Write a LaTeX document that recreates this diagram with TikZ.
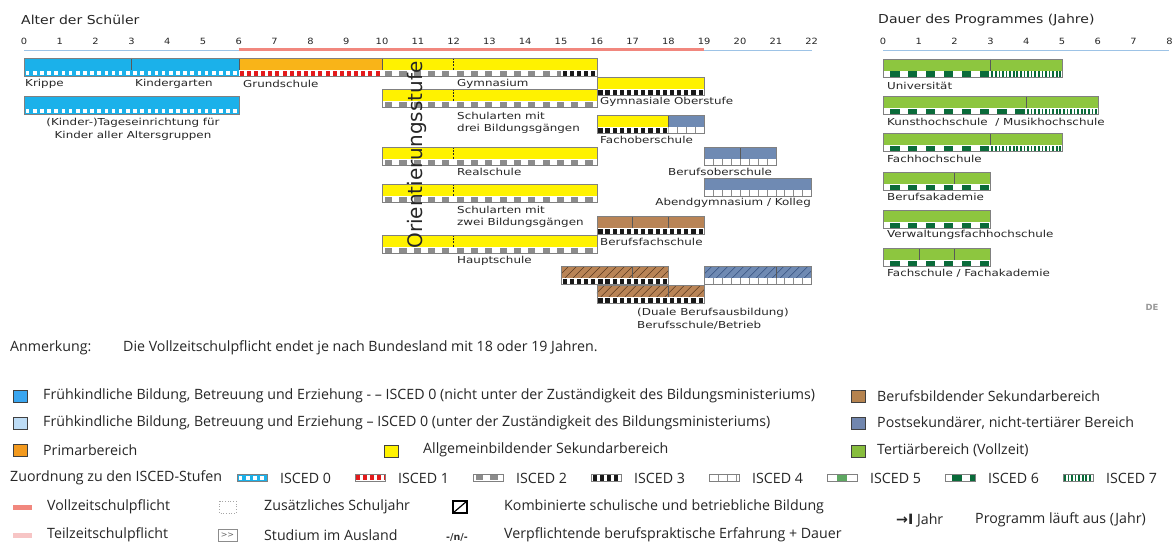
\documentclass[tikz,border=0pt]{standalone}
\usepackage{graphicx}
\usepackage{fontspec}
\setmainfont{DejaVu Sans}
\newfontfamily\legfont{Open Sans}
\newfontfamily\symfont{DejaVu Sans}
\usetikzlibrary{arrows.meta}

\definecolor{cyanb}{HTML}{1BB1EA}
\definecolor{orng}{HTML}{F9B418}
\definecolor{yel}{HTML}{FFF200}
\definecolor{brwn}{HTML}{B98456}
\definecolor{bgray}{HTML}{6F8AB3}
\definecolor{grn}{HTML}{8DC63F}
\definecolor{dgrn}{HTML}{0A6B3A}
\definecolor{mgrn}{HTML}{5EA862}
\definecolor{redp}{HTML}{E31A1C}
\definecolor{grayp}{HTML}{8C8C8C}
\definecolor{salmon}{HTML}{F1877E}
\definecolor{pinkl}{HTML}{F7C5C5}
\definecolor{axblue}{HTML}{9DC3E6}
\definecolor{legblue}{HTML}{3AA6F0}
\definecolor{leglight}{HTML}{BDDCF5}
\definecolor{legorange}{HTML}{F39A1E}
\definecolor{legbrown}{HTML}{B5834F}
\definecolor{legbgray}{HTML}{7186AE}
\definecolor{leggreen}{HTML}{87BD3D}
\definecolor{hatchc}{HTML}{5A3A1E}
\definecolor{hatchb}{HTML}{34507E}

\newcommand\wide[1]{\scalebox{1.24}[1]{#1}}
\newcommand\wtick[1]{\scalebox{1.15}[1]{#1}}
\newcommand\wtitle[1]{\scalebox{1.14}[1]{#1}}

\tikzset{
  lbl/.style={font=\fontsize{9.6}{11}\selectfont, inner sep=0pt, anchor=west, text=black!85},
  tick/.style={font=\fontsize{8.6}{10}\selectfont, inner sep=0pt, text=black!85},
  ttl/.style={font=\fontsize{12.3}{14}\selectfont, inner sep=0pt, anchor=west, text=black!85},
  leg/.style={font=\legfont\fontsize{14.2}{16}\selectfont, inner sep=0pt, anchor=west, text=black!85},
  legsq/.style={draw=black!75, line width=.8pt, minimum width=14pt, minimum height=12pt, inner sep=0pt},
  barline/.style={draw=black!50, line width=.6pt},
  divline/.style={draw=black!65, line width=.6pt},
  dashline/.style={draw=black!85, line width=.8pt, dash pattern=on 2pt off 1.2pt},
}

\def\xo{24}
\def\yu{35.8}

\newcommand\patzero[3]{%
  \fill[cyanb] (#1,#3) rectangle (#2,#3+6.5);
  \foreach \k in {0,...,45}{\fill[white] ({#1+1.8+\k*7.16},#3+1.4) rectangle ++(3.6,3.7);}}
\newcommand\patone[3]{%
  \fill[white] (#1,#3) rectangle (#2,#3+6.5);
  \foreach \k in {0,...,45}{\fill[redp] ({#1+0.8+\k*7.16},#3+0.6) rectangle ++(4,5.3);}}
\newcommand\pattwo[3]{%
  \fill[white] (#1,#3) rectangle (#2,#3+6.5);
  \foreach \k in {0,...,25}{\fill[grayp] ({#1+3+\k*14.32},#3+0.8) rectangle ++(7.2,4.9);}}
\newcommand\patthree[3]{%
  \fill[white] (#1,#3) rectangle (#2,#3+6.5);
  \foreach \k in {0,...,45}{\fill[black!90] ({#1+1.5+\k*7.16},#3+0.8) rectangle ++(4.2,5.2);}}
\newcommand\patfour[3]{%
  \fill[white] (#1,#3) rectangle (#2,#3+6.5);
  \foreach \k in {0,...,40}{\draw[black!45, line width=.6pt] ({#1+\k*8.95},#3) -- ++(0,6.5);}}
\newcommand\patfive[3]{%
  \fill[white] (#1,#3) rectangle (#2,#3+6.5);
  \fill[mgrn] ({#1+10},#3+0.5) rectangle ({#1+20},#3+6);}
\newcommand\patsix[3]{%
  \fill[white] (#1,#3) rectangle (#2,#3+6.5);
  \foreach \k in {0,...,25}{\fill[dgrn] ({#1+7+\k*17.9},#3+0.5) rectangle ++(9.5,5.5);}}
\newcommand\patseven[3]{%
  \fill[white] (#1,#3) rectangle (#2,#3+6.5);
  \foreach \k in {0,...,70}{\fill[dgrn] ({#1+1+\k*3.58},#3+0.5) rectangle ++(1.7,5.5);}}

\newcommand\strip[4]{%
  \begin{scope}\clip (#2,#4) rectangle (#3,#4+6.5);
  \csname pat#1\endcsname{#2}{#3}{#4}\end{scope}}

\newcommand\cseg[4]{\fill[#4] ({\xo+\yu*#1},#3) rectangle ({\xo+\yu*#2},#3+12);}
\newcommand\pseg[4]{\strip{#1}{\xo+\yu*#2}{\xo+\yu*#3}{#4+12}}
\newcommand\bout[3]{\draw[barline] ({\xo+\yu*#1},#3) rectangle ({\xo+\yu*#2},#3+18.5);}
\newcommand\bdiv[2]{\draw[divline] ({\xo+\yu*#1},#2) -- ({\xo+\yu*#1},#2+12);}
\newcommand\bdash[2]{\draw[dashline] ({\xo+\yu*#1},#2) -- ({\xo+\yu*#1},#2+12);}
\newcommand\bhatch[4]{\begin{scope}\clip ({\xo+\yu*#1},#3) rectangle ({\xo+\yu*#2},#3+12);
  \foreach \k in {0,...,16}{\draw[#4, line width=.5pt] ({\xo+\yu*#1-12+\k*8},#3+12) -- ++(12,-12);}\end{scope}}

\begin{document}
\begin{tikzpicture}[x=1pt,y=-1pt]
\useasboundingbox (0,0) rectangle (1176,543);
\fill[white] (0,0) rectangle (1176,543);

% ---------------- left axis
\node[ttl] (ttlA) at (21,20) {\wtitle{Alter der Schüler}};
\foreach \a in {0,...,22} \node[tick] (t\a) at ({24+35.8*\a},41) {\wtick{\a}};
\draw[axblue, line width=1pt] (24,50.5) -- ({24+35.8*6},50.5);
\draw[salmon, line width=3pt] ({24+35.8*6},49.5) -- ({24+35.8*19},49.5);
\draw[axblue, line width=1pt] ({24+35.8*19},50.5) -- ({24+35.8*22},50.5);

% Row 1: Krippe / Kindergarten / Grundschule / Gymnasium
\cseg{0}{3}{58}{cyanb}\cseg{3}{6}{58}{cyanb}\cseg{6}{10}{58}{orng}\cseg{10}{16}{58}{yel}
\pseg{zero}{0}{6}{58}\pseg{one}{6}{10}{58}\pseg{two}{10}{15}{58}\pseg{three}{15}{16}{58}
\bdiv{3}{58}\bdiv{6}{58}\bdiv{10}{58}\bdash{12}{58}
\bout{0}{16}{58}
% Tageseinrichtung
\cseg{0}{6}{96}{cyanb}\pseg{zero}{0}{6}{96}\bout{0}{6}{96}
% Gymnasiale Oberstufe
\cseg{16}{19}{77}{yel}\pseg{three}{16}{19}{77}\bout{16}{19}{77}
% Schularten mit drei Bildungsgaengen
\cseg{10}{16}{89}{yel}\pseg{two}{10}{16}{89}\bdash{12}{89}\bout{10}{16}{89}
% Fachoberschule
\cseg{16}{18}{115}{yel}\cseg{18}{19}{115}{bgray}\pseg{three}{16}{18}{115}\pseg{four}{18}{19}{115}\bdiv{18}{115}\bout{16}{19}{115}
% Realschule
\cseg{10}{16}{147}{yel}\pseg{two}{10}{16}{147}\bdash{12}{147}\bout{10}{16}{147}
% Berufsoberschule
\cseg{19}{21}{147}{bgray}\pseg{four}{19}{21}{147}\bdiv{20}{147}\bout{19}{21}{147}
% Abendgymnasium
\cseg{19}{22}{178}{bgray}\pseg{four}{19}{22}{178}\bout{19}{22}{178}
% Schularten mit zwei Bildungsgaengen
\cseg{10}{16}{184}{yel}\pseg{two}{10}{16}{184}\bdash{12}{184}\bout{10}{16}{184}
% Berufsfachschule
\cseg{16}{19}{216}{brwn}\pseg{three}{16}{19}{216}\bdiv{17}{216}\bdiv{18}{216}\bout{16}{19}{216}
% Hauptschule
\cseg{10}{16}{235}{yel}\pseg{two}{10}{16}{235}\bdash{12}{235}\bout{10}{16}{235}
% Duale Berufsausbildung
\cseg{15}{18}{266}{brwn}\bhatch{15}{18}{266}{hatchc}\pseg{three}{15}{18}{266}\bdiv{17}{266}\bout{15}{18}{266}
\cseg{16}{19}{285}{brwn}\bhatch{16}{19}{285}{hatchc}\pseg{three}{16}{19}{285}\bdiv{18}{285}\bout{16}{19}{285}
\cseg{19}{22}{266}{bgray}\bhatch{19}{22}{266}{hatchb}\pseg{four}{19}{22}{266}\bdiv{21}{266}\bout{19}{22}{266}

% labels left
\node[lbl] (krippe) at (25,84) {\wide{Krippe}};
\node[lbl] (kiga) at (135,84) {\wide{Kindergarten}};
\node[lbl] (grund) at (243,84) {\wide{Grundschule}};
\node[lbl, anchor=center] (tage1) at (133,123) {\wide{(Kinder-)Tageseinrichtung für}};
\node[lbl, anchor=center] (tage2) at (133,136) {\wide{Kinder aller Altersgruppen}};
\node[lbl] (gym) at (457,83.5) {\wide{Gymnasium}};
\node[lbl] (gymo) at (600,102) {\wide{Gymnasiale Oberstufe}};
\node[lbl] (sdrei1) at (457,115.5) {\wide{Schularten mit}};
\node[lbl] (sdrei2) at (457,128.5) {\wide{drei Bildungsgängen}};
\node[lbl] (fos) at (600,140) {\wide{Fachoberschule}};
\node[lbl] (real) at (457,172) {\wide{Realschule}};
\node[lbl] (bos) at (668,172) {\wide{Berufsoberschule}};
\node[lbl, anchor=east] (abend) at (811,203) {\wide{Abendgymnasium / Kolleg}};
\node[lbl] (szwei1) at (457,210) {\wide{Schularten mit}};
\node[lbl] (szwei2) at (457,223) {\wide{zwei Bildungsgängen}};
\node[lbl] (bfs) at (600,241.5) {\wide{Berufsfachschule}};
\node[lbl] (haupt) at (457,260.5) {\wide{Hauptschule}};
\node[lbl] (dual1) at (637,313) {\wide{(Duale Berufsausbildung)}};
\node[lbl] (dual2) at (637,325.5) {\wide{Berufsschule/Betrieb}};
\node[rotate=90, font=\fontsize{20}{21}\selectfont, inner sep=0pt, text=black!85] (orient) at (417,155) {Orientierungsstufe};

% ---------------- right axis
\def\xo{883}
\node[ttl] (ttlB) at (878,20) {\wtitle{Dauer des Programmes (Jahre)}};
\foreach \a in {0,...,8} \node[tick] (d\a) at ({883+35.8*\a},41) {\wtick{\a}};
\draw[axblue, line width=1pt] (883,50.5) -- ({883+35.8*8},50.5);

\cseg{0}{5}{59}{grn}\pseg{six}{0}{3}{59}\pseg{seven}{3}{5}{59}\bdiv{3}{59}\bout{0}{5}{59}
\cseg{0}{6}{96}{grn}\pseg{six}{0}{4}{96}\pseg{seven}{4}{6}{96}\bdiv{4}{96}\bout{0}{6}{96}
\cseg{0}{5}{133}{grn}\pseg{six}{0}{3}{133}\pseg{seven}{3}{5}{133}\bdiv{3}{133}\bout{0}{5}{133}
\cseg{0}{3}{172}{grn}\pseg{six}{0}{3}{172}\bdiv{2}{172}\bout{0}{3}{172}
\cseg{0}{3}{210}{grn}\pseg{six}{0}{3}{210}\bout{0}{3}{210}
\cseg{0}{3}{248}{grn}\pseg{six}{0}{3}{248}\bdiv{1}{248}\bdiv{2}{248}\bout{0}{3}{248}

\node[lbl] (uni) at (887,86) {\wide{Universität}};
\node[lbl] (kunst) at (887,122) {\wide{Kunsthochschule~ / Musikhochschule}};
\node[lbl] (fh) at (887,158.5) {\wide{Fachhochschule}};
\node[lbl] (ba) at (887,197) {\wide{Berufsakademie}};
\node[lbl] (vfh) at (887,235) {\wide{Verwaltungsfachhochschule}};
\node[lbl] (fs) at (887,273) {\wide{Fachschule / Fachakademie}};
\node[font=\bfseries\fontsize{8.5}{9}\selectfont, text=black!40, inner sep=0pt] (de) at (1152,307) {DE};

% ---------------- note
\node[leg] (anm) at (10,348) {Anmerkung:};
\node[leg] (anmt) at (123,348) {Die Vollzeitschulpflicht endet je nach Bundesland mit 18 oder 19 Jahren.};

% ---------------- legend
\node[legsq, fill=legblue] (sq1) at (20,396) {};
\node[leg] (lg1) at (43,396) {Frühkindliche Bildung, Betreuung und Erziehung - – ISCED 0 (nicht unter der Zuständigkeit des Bildungsministeriums)};
\node[legsq, fill=leglight] (sq2) at (20,423) {};
\node[leg] (lg2) at (43,423) {Frühkindliche Bildung, Betreuung und Erziehung – ISCED 0 (unter der Zuständigkeit des Bildungsministeriums)};
\node[legsq, fill=legorange] (sq3) at (20,450) {};
\node[leg] (lg3) at (43,450) {Primarbereich};
\node[legsq, fill=yel] (sq4) at (391,451) {};
\node[leg] (lg4) at (423,450) {Allgemeinbildender Sekundarbereich};
\node[legsq, fill=legbrown] (sq5) at (858,396) {};
\node[leg] (lg5) at (877,396) {Berufsbildender Sekundarbereich};
\node[legsq, fill=legbgray] (sq6) at (858,423) {};
\node[leg] (lg6) at (877,423) {Postsekundärer, nicht-tertiärer Bereich};
\node[legsq, fill=leggreen] (sq7) at (858,451) {};
\node[leg] (lg7) at (877,450) {Tertiärbereich (Vollzeit)};

\node[leg] (zuo) at (10,478) {Zuordnung zu den ISCED-Stufen};
\foreach \n/\p [count=\i from 0] in {zero/0,one/1,two/2,three/3,four/4,five/5,six/6,seven/7}{
  \pgfmathsetmacro\lx{280+118*\i}
  \strip{\n}{\lx-43}{\lx-13}{474.5}
  \draw[black!50, line width=.5pt] ({\lx-43},474.5) rectangle ({\lx-13},481);
  \node[leg] (isc\i) at (\lx,478) {ISCED \p};
}

\fill[salmon] (13,504.5) rectangle (32,509.5);
\node[leg] (voll) at (47,507) {Vollzeitschulpflicht};
\fill[pinkl] (13,532.5) rectangle (32,537.5);
\node[leg] (teil) at (47,535) {Teilzeitschulpflicht};
\draw[black!35, dotted, line width=.7pt] (219,501) rectangle (236,513);
\node[leg] (zus) at (264,507) {Zusätzliches Schuljahr};
\draw[black!45, line width=.5pt] (218,529) rectangle (237,541);
\node[font=\fontsize{8}{9}\selectfont, text=black!60, inner sep=0pt] (ausl) at (227.5,535.3) {\textgreater\kern-.2pt\textgreater};
\node[leg] (stud) at (264,535) {Studium im Ausland};
\draw[black, line width=1.5pt] (453,501) rectangle (467,513);
\draw[black, line width=1.2pt] (453,513) -- (467,501);
\node[leg] (komb) at (504,507) {Kombinierte schulische und betriebliche Bildung};
\node[font=\bfseries\fontsize{9.5}{10}\selectfont, text=black!80, inner sep=0pt, anchor=west] (npfl) at (446,537) {-/n/-};
\node[leg] (verpf) at (504,535) {Verpflichtende berufspraktische Erfahrung + Dauer};
\node[leg] (jahr) at (896,520) {{\symfont\bfseries →I} Jahr};
\node[leg] (prog) at (975,520) {Programm läuft aus (Jahr)};
\end{tikzpicture}
\end{document}
